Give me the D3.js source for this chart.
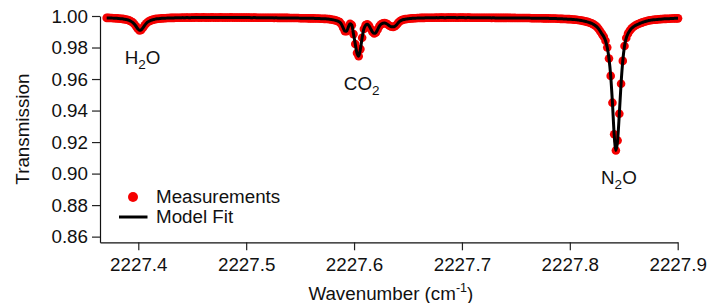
<!DOCTYPE html>
<html>
<head>
<meta charset="utf-8">
<script src="https://cdn.jsdelivr.net/npm/d3@7"></script>
<style>
  body { margin: 0; background: #fff; }
  svg text { font-family: "Liberation Sans", Arial, Helvetica, sans-serif; fill: #111; }
</style>
</head>
<body>
<div id="chart"></div>
<script>
// spectrum sampling grid (cm-1)
const wnStart = 2227.3707;
const wnStep = 0.0016;

// measured transmission, one value per grid point
const transmission = [
  0.9988, 0.9988, 0.9987, 0.9987, 0.9986, 0.9986, 0.9985, 0.9984, 0.9983, 0.9982,
  0.9980, 0.9978, 0.9976, 0.9972, 0.9967, 0.9960, 0.9949, 0.9935, 0.9919, 0.9909,
  0.9912, 0.9925, 0.9941, 0.9954, 0.9963, 0.9969, 0.9974, 0.9977, 0.9980, 0.9982,
  0.9983, 0.9984, 0.9985, 0.9986, 0.9986, 0.9987, 0.9987, 0.9988, 0.9988, 0.9988,
  0.9989, 0.9989, 0.9989, 0.9989, 0.9990, 0.9989, 0.9990, 0.9990, 0.9989, 0.9990,
  0.9990, 0.9990, 0.9991, 0.9990, 0.9990, 0.9990, 0.9991, 0.9990, 0.9990, 0.9990,
  0.9990, 0.9991, 0.9990, 0.9990, 0.9990, 0.9990, 0.9991, 0.9990, 0.9990, 0.9990,
  0.9990, 0.9990, 0.9991, 0.9990, 0.9990, 0.9990, 0.9990, 0.9990, 0.9990, 0.9990,
  0.9990, 0.9990, 0.9990, 0.9990, 0.9989, 0.9990, 0.9990, 0.9989, 0.9989, 0.9989,
  0.9989, 0.9989, 0.9989, 0.9989, 0.9989, 0.9989, 0.9989, 0.9988, 0.9989, 0.9988,
  0.9988, 0.9988, 0.9988, 0.9988, 0.9988, 0.9988, 0.9987, 0.9987, 0.9987, 0.9987,
  0.9987, 0.9987, 0.9986, 0.9986, 0.9986, 0.9986, 0.9986, 0.9985, 0.9985, 0.9985,
  0.9985, 0.9984, 0.9984, 0.9984, 0.9983, 0.9983, 0.9982, 0.9982, 0.9981, 0.9980,
  0.9978, 0.9976, 0.9974, 0.9971, 0.9967, 0.9961, 0.9948, 0.9925, 0.9904, 0.9903,
  0.9930, 0.9951, 0.9942, 0.9885, 0.9822, 0.9765, 0.9745, 0.9790, 0.9862, 0.9918,
  0.9942, 0.9948, 0.9938, 0.9918, 0.9898, 0.9890, 0.9895, 0.9915, 0.9936, 0.9948,
  0.9954, 0.9955, 0.9952, 0.9945, 0.9937, 0.9932, 0.9931, 0.9935, 0.9945, 0.9958,
  0.9968, 0.9974, 0.9978, 0.9980, 0.9981, 0.9983, 0.9984, 0.9985, 0.9986, 0.9986,
  0.9987, 0.9987, 0.9988, 0.9988, 0.9988, 0.9989, 0.9989, 0.9989, 0.9989, 0.9989,
  0.9989, 0.9990, 0.9989, 0.9990, 0.9990, 0.9990, 0.9989, 0.9990, 0.9990, 0.9990,
  0.9990, 0.9990, 0.9990, 0.9989, 0.9990, 0.9990, 0.9990, 0.9990, 0.9989, 0.9990,
  0.9990, 0.9989, 0.9989, 0.9989, 0.9989, 0.9989, 0.9989, 0.9989, 0.9989, 0.9989,
  0.9989, 0.9989, 0.9989, 0.9988, 0.9989, 0.9988, 0.9988, 0.9988, 0.9988, 0.9988,
  0.9988, 0.9988, 0.9988, 0.9988, 0.9988, 0.9987, 0.9988, 0.9987, 0.9987, 0.9987,
  0.9987, 0.9987, 0.9987, 0.9987, 0.9987, 0.9987, 0.9986, 0.9986, 0.9986, 0.9986,
  0.9986, 0.9986, 0.9986, 0.9985, 0.9985, 0.9985, 0.9985, 0.9984, 0.9984, 0.9984,
  0.9984, 0.9983, 0.9983, 0.9982, 0.9982, 0.9981, 0.9981, 0.9980, 0.9980, 0.9979,
  0.9978, 0.9977, 0.9976, 0.9975, 0.9973, 0.9971, 0.9969, 0.9967, 0.9964, 0.9961,
  0.9957, 0.9953, 0.9947, 0.9940, 0.9931, 0.9918, 0.9902, 0.9885, 0.9868, 0.9843,
  0.9800, 0.9730, 0.9620, 0.9450, 0.9250, 0.9147, 0.9210, 0.9380, 0.9570, 0.9715,
  0.9810, 0.9860, 0.9888, 0.9906, 0.9920, 0.9930, 0.9938, 0.9944, 0.9949, 0.9954,
  0.9958, 0.9962, 0.9965, 0.9968, 0.9971, 0.9973, 0.9975, 0.9976, 0.9977, 0.9978,
  0.9979, 0.9980, 0.9981, 0.9982, 0.9982, 0.9983, 0.9983, 0.9984, 0.9984, 0.9985,
  0.9985, 0.9985
];

// axis ticks
const xTicks = [2227.4, 2227.5, 2227.6, 2227.7, 2227.8, 2227.9];
const yTicks = [0.86, 0.88, 0.90, 0.92, 0.94, 0.96, 0.98, 1.00];

// absorbing species: [main, subscript, tail] and the grid index of each line centre
const bandNames = [["H", "2", "O"], ["CO", "2", ""], ["N", "2", "O"]];
const bandCentre = [19, 146, 295];

const legendLabels = ["Measurements", "Model Fit"];

const width = 721, height = 303;
const plotLeft = 100, plotRight = 677.7, plotTop = 16, plotBottom = 242.3;
const fontSize = "18.8px";

const wavenumber = transmission.map((_, i) => wnStart + i * wnStep);
const points = transmission.map((t, i) => ({ wn: wavenumber[i], t: t }));

const svg = d3.select("#chart").append("svg")
  .attr("width", width)
  .attr("height", height);

const x = d3.scaleLinear().domain([2227.3645, 2227.9]).range([plotLeft, plotRight]);
const y = d3.scaleLinear().domain([0.8564, 1.0]).range([plotBottom, plotTop]);

// axes
const yAxis = svg.append("g")
  .attr("transform", `translate(${plotLeft},0)`)
  .call(d3.axisLeft(y).tickValues(yTicks).tickSize(8).tickSizeOuter(0).tickPadding(4)
    .tickFormat(d3.format(".2f")));

const xAxis = svg.append("g")
  .attr("transform", `translate(0,${plotBottom})`)
  .call(d3.axisBottom(x).tickValues(xTicks).tickSize(8).tickSizeOuter(0).tickPadding(7)
    .tickFormat(d3.format(".1f")));

[xAxis, yAxis].forEach(g => {
  g.select(".domain").attr("stroke", "#111").attr("stroke-width", 1.2);
  g.selectAll(".tick line").attr("stroke", "#222").attr("stroke-width", 1.2);
  g.selectAll(".tick text").style("font-size", fontSize).attr("fill", "#111");
});

// measurements
svg.append("g")
  .selectAll("circle")
  .data(points)
  .enter()
  .append("circle")
  .attr("cx", d => x(d.wn))
  .attr("cy", d => y(d.t))
  .attr("r", 4.3)
  .attr("fill", "#f50000");

// model fit
const line = d3.line()
  .x(d => x(d.wn))
  .y(d => y(d.t))
  .curve(d3.curveMonotoneX);

svg.append("path")
  .datum(points)
  .attr("d", line)
  .attr("fill", "none")
  .attr("stroke", "#000")
  .attr("stroke-width", 3);

// band labels under each dip
bandNames.forEach((parts, k) => {
  const p = points[bandCentre[k]];
  const t = svg.append("text")
    .attr("x", x(p.wn) + 3)
    .attr("y", y(p.t) + 34)
    .attr("text-anchor", "middle")
    .style("font-size", fontSize);
  t.append("tspan").text(parts[0]);
  t.append("tspan").attr("dy", 5).style("font-size", "13.5px").text(parts[1]);
  t.append("tspan").attr("dy", -5).text(parts[2]);
});

// axis titles
svg.append("text")
  .attr("transform", `translate(29,${(plotTop + plotBottom) / 2}) rotate(-90)`)
  .attr("text-anchor", "middle")
  .style("font-size", fontSize)
  .text("Transmission");

const xt = svg.append("text")
  .attr("x", (plotLeft + plotRight) / 2 + 2)
  .attr("y", 300)
  .attr("text-anchor", "middle")
  .style("font-size", fontSize);
xt.append("tspan").text("Wavenumber (cm");
xt.append("tspan").attr("dy", -8).style("font-size", "12.5px").text("-1");
xt.append("tspan").attr("dy", 8).text(")");

// legend
const legend = svg.append("g");
legend.append("circle").attr("cx", 133).attr("cy", 197).attr("r", 5).attr("fill", "#f50000");
legend.append("line").attr("x1", 119).attr("x2", 147.5).attr("y1", 217).attr("y2", 217)
  .attr("stroke", "#000").attr("stroke-width", 3);
legend.selectAll("text.lg")
  .data(legendLabels)
  .enter()
  .append("text")
  .attr("class", "lg")
  .attr("x", 156)
  .attr("y", (d, i) => 203 + i * 20)
  .style("font-size", fontSize)
  .text(d => d);
</script>
</body>
</html>
